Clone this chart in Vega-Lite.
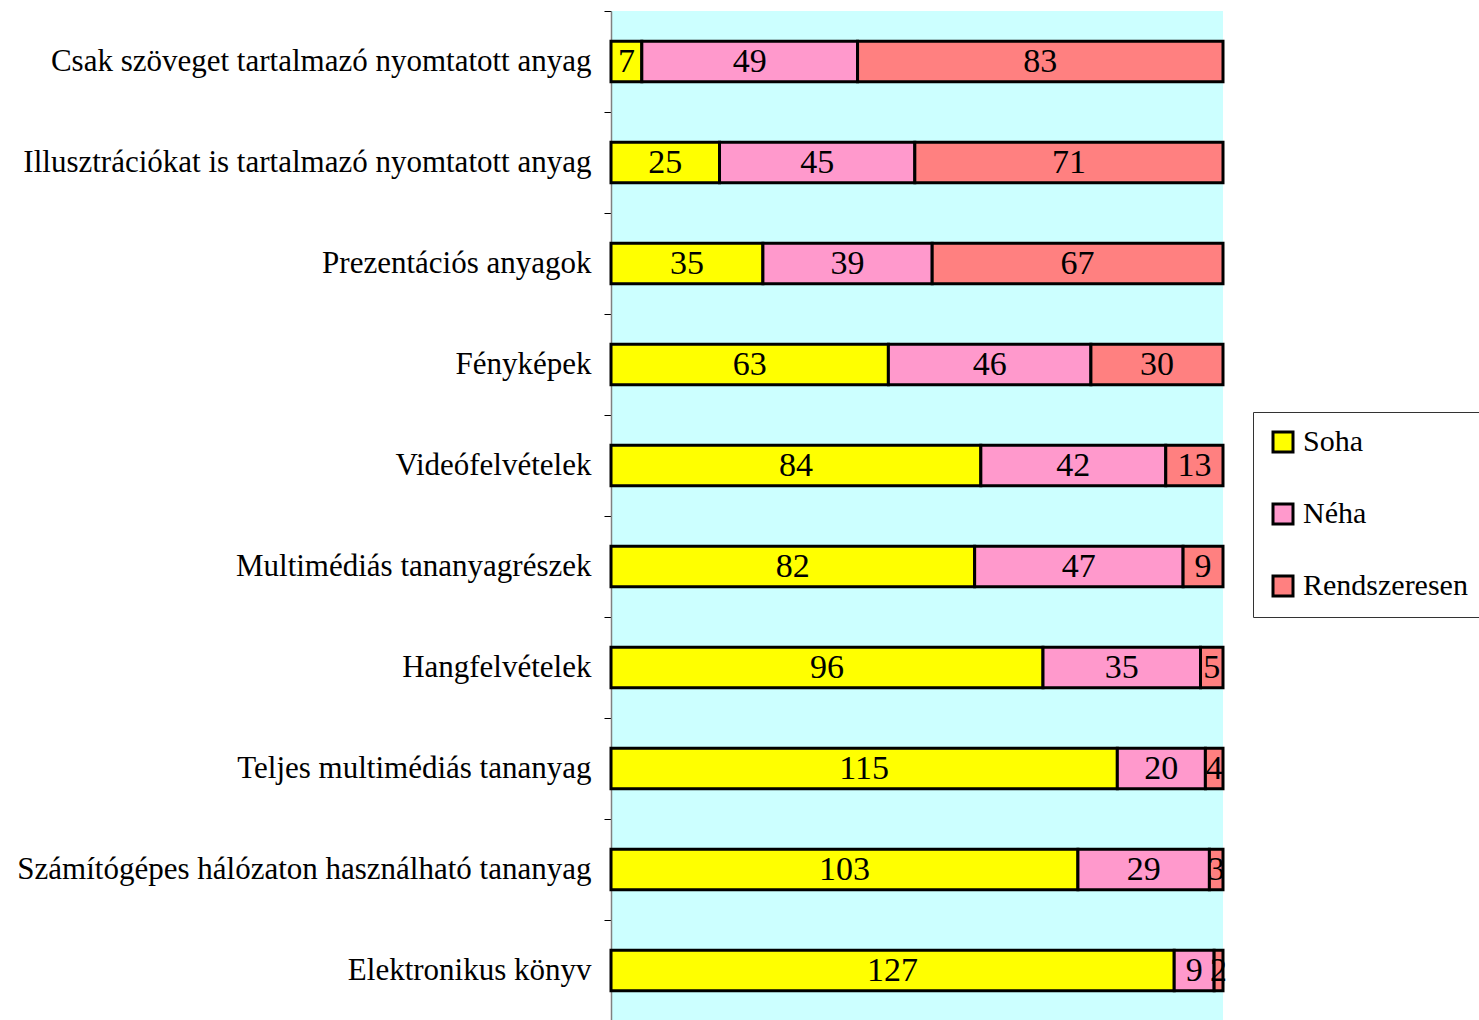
{
  "$schema": "https://vega.github.io/schema/vega-lite/v6.json",
  "autosize": "none",
  "width": 612,
  "height": 1010,
  "padding": {"left": 611, "top": 11, "right": 256, "bottom": 0},
  "background": "white",
  "config": {
    "view": {"fill": "#CCFFFF", "stroke": null},
    "font": "Liberation Serif"
  },
  "data": {
    "values": [
      {"cat": "Csak szöveget tartalmazó nyomtatott anyag", "answer": "Soha", "k": 1, "value": 7},
      {"cat": "Csak szöveget tartalmazó nyomtatott anyag", "answer": "Néha", "k": 2, "value": 49},
      {"cat": "Csak szöveget tartalmazó nyomtatott anyag", "answer": "Rendszeresen", "k": 3, "value": 83},
      {"cat": "Illusztrációkat is tartalmazó nyomtatott anyag", "answer": "Soha", "k": 1, "value": 25},
      {"cat": "Illusztrációkat is tartalmazó nyomtatott anyag", "answer": "Néha", "k": 2, "value": 45},
      {"cat": "Illusztrációkat is tartalmazó nyomtatott anyag", "answer": "Rendszeresen", "k": 3, "value": 71},
      {"cat": "Prezentációs anyagok", "answer": "Soha", "k": 1, "value": 35},
      {"cat": "Prezentációs anyagok", "answer": "Néha", "k": 2, "value": 39},
      {"cat": "Prezentációs anyagok", "answer": "Rendszeresen", "k": 3, "value": 67},
      {"cat": "Fényképek", "answer": "Soha", "k": 1, "value": 63},
      {"cat": "Fényképek", "answer": "Néha", "k": 2, "value": 46},
      {"cat": "Fényképek", "answer": "Rendszeresen", "k": 3, "value": 30},
      {"cat": "Videófelvételek", "answer": "Soha", "k": 1, "value": 84},
      {"cat": "Videófelvételek", "answer": "Néha", "k": 2, "value": 42},
      {"cat": "Videófelvételek", "answer": "Rendszeresen", "k": 3, "value": 13},
      {"cat": "Multimédiás tananyagrészek", "answer": "Soha", "k": 1, "value": 82},
      {"cat": "Multimédiás tananyagrészek", "answer": "Néha", "k": 2, "value": 47},
      {"cat": "Multimédiás tananyagrészek", "answer": "Rendszeresen", "k": 3, "value": 9},
      {"cat": "Hangfelvételek", "answer": "Soha", "k": 1, "value": 96},
      {"cat": "Hangfelvételek", "answer": "Néha", "k": 2, "value": 35},
      {"cat": "Hangfelvételek", "answer": "Rendszeresen", "k": 3, "value": 5},
      {"cat": "Teljes multimédiás tananyag", "answer": "Soha", "k": 1, "value": 115},
      {"cat": "Teljes multimédiás tananyag", "answer": "Néha", "k": 2, "value": 20},
      {"cat": "Teljes multimédiás tananyag", "answer": "Rendszeresen", "k": 3, "value": 4},
      {"cat": "Számítógépes hálózaton használható tananyag", "answer": "Soha", "k": 1, "value": 103},
      {"cat": "Számítógépes hálózaton használható tananyag", "answer": "Néha", "k": 2, "value": 29},
      {"cat": "Számítógépes hálózaton használható tananyag", "answer": "Rendszeresen", "k": 3, "value": 3},
      {"cat": "Elektronikus könyv", "answer": "Soha", "k": 1, "value": 127},
      {"cat": "Elektronikus könyv", "answer": "Néha", "k": 2, "value": 9},
      {"cat": "Elektronikus könyv", "answer": "Rendszeresen", "k": 3, "value": 2}
    ]
  },
  "transform": [
    {"stack": "value", "groupby": ["cat"], "sort": [{"field": "k", "order": "ascending"}], "offset": "normalize", "as": ["x0", "x1"]},
    {"calculate": "(datum.x0 + datum.x1) / 2", "as": "xm"}
  ],
  "encoding": {
    "y": {
      "field": "cat", "type": "nominal", "sort": null, "title": null,
      "scale": {"paddingInner": 0.6, "paddingOuter": 0.3},
      "axis": {
        "tickOffset": -50.5, "labelOffset": 50.5, "tickSize": 7, "tickColor": "black", "tickWidth": 1,
        "domainColor": "#808080", "domainWidth": 1.5,
        "labelFont": "Liberation Serif", "labelFontSize": 31, "labelColor": "black",
        "labelPadding": 13, "labelLimit": 700
      }
    }
  },
  "layer": [
    {
      "mark": {"type": "bar", "stroke": "black", "strokeWidth": 3},
      "encoding": {
        "x": {"field": "x0", "type": "quantitative", "scale": {"domain": [0, 1], "nice": false}, "axis": null},
        "x2": {"field": "x1"},
        "color": {
          "field": "answer", "type": "nominal",
          "scale": {"domain": ["Soha", "Néha", "Rendszeresen"], "range": ["#FFFF00", "#FF99CC", "#FF8080"]},
          "legend": {
            "title": null, "orient": "none", "legendX": 642, "legendY": 401,
            "symbolType": "square", "symbolSize": 400, "symbolStrokeColor": "black", "symbolStrokeWidth": 3,
            "labelFont": "Liberation Serif", "labelFontSize": 30, "labelColor": "black", "labelLimit": 400,
            "rowPadding": 40, "padding": 15, "strokeColor": "#333333", "fillColor": "white",
            "labelOffset": 5
          }
        }
      }
    },
    {
      "mark": {"type": "text", "font": "Liberation Serif", "fontSize": 34, "color": "black", "baseline": "middle"},
      "encoding": {
        "x": {"field": "xm", "type": "quantitative"},
        "text": {"field": "value", "type": "quantitative"}
      }
    }
  ]
}
